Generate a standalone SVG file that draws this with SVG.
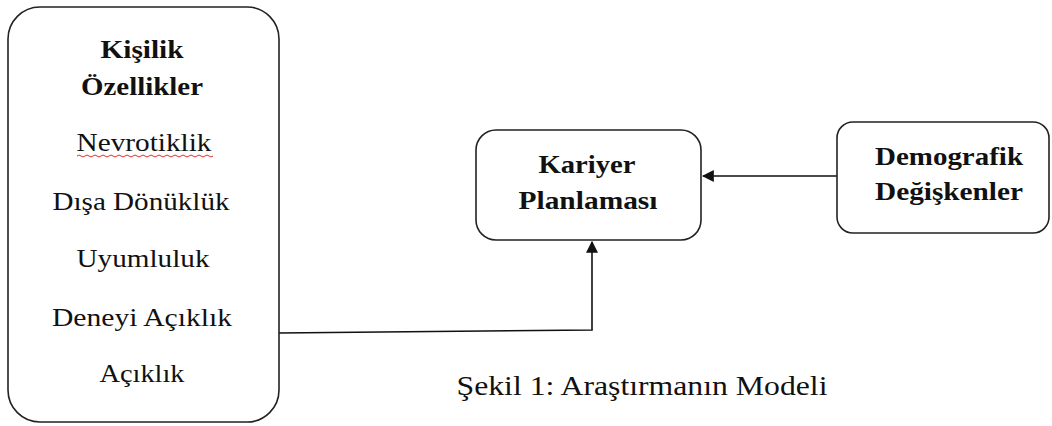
<svg xmlns="http://www.w3.org/2000/svg" width="1052" height="426" viewBox="0 0 1052 426">
<style>
.box{fill:#fff;stroke:#222;stroke-width:1.6}
.t{font-family:"Liberation Serif","Times New Roman",serif;font-size:25px;fill:#111;text-anchor:middle}
.b{font-weight:bold}
.cap{font-size:28px}
.c{fill:none;stroke:#111;stroke-width:1.6}
</style>
<defs>
<marker id="ah" viewBox="0 0 10 10" refX="9" refY="5" markerWidth="12" markerHeight="12" markerUnits="userSpaceOnUse" orient="auto">
<path d="M0,0 L10,5 L0,10 z" fill="#111"/>
</marker>
</defs>
<g id="connectors">
<path class="c" d="M279,333 L592,330 L592,242" marker-end="url(#ah)"/>
<path class="c" d="M837,176 L703,176" marker-end="url(#ah)"/>
</g>
<g id="kisilik">
<rect class="box" x="8" y="7" width="271" height="415" rx="32"/>
<text class="t b" x="142" y="58" textLength="83" lengthAdjust="spacingAndGlyphs">Kişilik</text>
<text class="t b" x="142" y="95" textLength="122" lengthAdjust="spacingAndGlyphs">Özellikler</text>
<text class="t" x="144" y="151" textLength="135" lengthAdjust="spacingAndGlyphs">Nevrotiklik</text>
<path d="M77,156 q2,-2 4,0 t4,0 t4,0 t4,0 t4,0 t4,0 t4,0 t4,0 t4,0 t4,0 t4,0 t4,0 t4,0 t4,0 t4,0 t4,0 t4,0 t4,0 t4,0 t4,0 t4,0 t4,0 t4,0 t4,0 t4,0 t4,0 t4,0 t4,0 t4,0 t4,0 t4,0 t4,0 t4,0 t4,0" fill="none" stroke="#e03030" stroke-width="1"/>
<text class="t" x="141" y="210" textLength="177" lengthAdjust="spacingAndGlyphs">Dışa Dönüklük</text>
<text class="t" x="143" y="267" textLength="133" lengthAdjust="spacingAndGlyphs">Uyumluluk</text>
<text class="t" x="142" y="326" textLength="180" lengthAdjust="spacingAndGlyphs">Deneyi Açıklık</text>
<text class="t" x="142" y="382" textLength="85" lengthAdjust="spacingAndGlyphs">Açıklık</text>
</g>
<g id="kariyer">
<rect class="box" x="476" y="130" width="225" height="110" rx="20"/>
<text class="t b" x="587" y="173" textLength="97" lengthAdjust="spacingAndGlyphs">Kariyer</text>
<text class="t b" x="588" y="209" textLength="139" lengthAdjust="spacingAndGlyphs">Planlaması</text>
</g>
<g id="demografik">
<rect class="box" x="837" y="122" width="212" height="111" rx="16"/>
<text class="t b" x="949" y="165" textLength="148" lengthAdjust="spacingAndGlyphs">Demografik</text>
<text class="t b" x="949" y="200" textLength="148" lengthAdjust="spacingAndGlyphs">Değişkenler</text>
</g>
<text class="t cap" x="642" y="395" textLength="371" lengthAdjust="spacingAndGlyphs">Şekil 1: Araştırmanın Modeli</text>
</svg>
